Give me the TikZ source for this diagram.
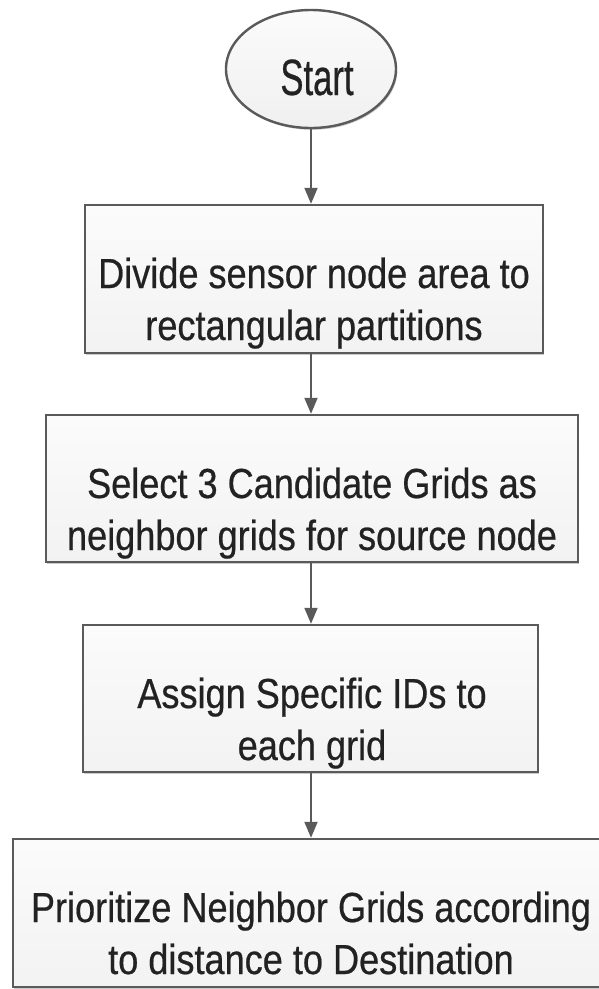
\documentclass[tikz,border=0pt]{standalone}
\usepackage{fontspec}
\setmainfont{Liberation Sans}
\newfontfamily\boxfont[FakeStretch=0.86,FakeBold=0.5]{Liberation Sans}
\newfontfamily\startfont[FakeStretch=0.68,FakeBold=0.5]{Liberation Sans}
\usetikzlibrary{shapes.geometric,arrows.meta,shadows}
\definecolor{edge}{HTML}{5A5A5A}
\definecolor{txt}{HTML}{222222}
\tikzset{
  stepbox/.style={draw=edge, line width=2.4pt, rectangle, top color=gray!3, bottom color=gray!10,
    inner sep=0pt,
    drop shadow={shadow xshift=1.2pt, shadow yshift=-1.8pt, fill=gray!70, opacity=0.6}},
  lbl/.style={anchor=base, inner sep=0pt, text=txt, font=\boxfont\fontsize{42}{52}\selectfont},
  startnode/.style={draw=edge, line width=2.4pt, ellipse, top color=gray!3, bottom color=gray!12,
    inner sep=0pt,
    drop shadow={shadow xshift=1.2pt, shadow yshift=-1.8pt, fill=gray!70, opacity=0.6}},
  flow/.style={draw=edge, line width=2pt, -{Triangle[length=16pt,width=13pt]}}
}
\begin{document}
\begin{tikzpicture}[x=1pt,y=-1pt]
\useasboundingbox (0,0) rectangle (599,989);
\node[startnode, minimum width=170pt, minimum height=118pt] (start) at (311,69) {};
\node[anchor=base, inner sep=0pt, text=txt, font=\startfont\fontsize{51}{60}\selectfont] (ts) at (317,95) {Start};
\node[stepbox, minimum width=458pt, minimum height=148pt] (b1) at (314,279) {};
\node[lbl] (t1a) at (314,288) {Divide sensor node area to};
\node[lbl] (t1b) at (314,340) {rectangular partitions};
\node[stepbox, minimum width=532pt, minimum height=147pt] (b2) at (312,488.5) {};
\node[lbl] (t2a) at (312,498) {Select 3 Candidate Grids as};
\node[lbl] (t2b) at (312,550) {neighbor grids for source node};
\node[stepbox, minimum width=455pt, minimum height=147pt] (b3) at (310.5,698.5) {};
\node[lbl] (t3a) at (312,708) {Assign Specific IDs to};
\node[lbl] (t3b) at (312,760) {each grid};
\node[stepbox, minimum width=598pt, minimum height=148pt] (b4) at (312,913) {};
\node[lbl] (t4a) at (311,922) {Prioritize Neighbor Grids according};
\node[lbl] (t4b) at (311,974) {to distance to Destination};
\coordinate (x) at (311,0);
\draw[flow] (start.south -| x) -- (b1.north -| x);
\draw[flow] (b1.south -| x) -- (b2.north -| x);
\draw[flow] (b2.south -| x) -- (b3.north -| x);
\draw[flow] (b3.south -| x) -- (b4.north -| x);
\end{tikzpicture}
\end{document}
